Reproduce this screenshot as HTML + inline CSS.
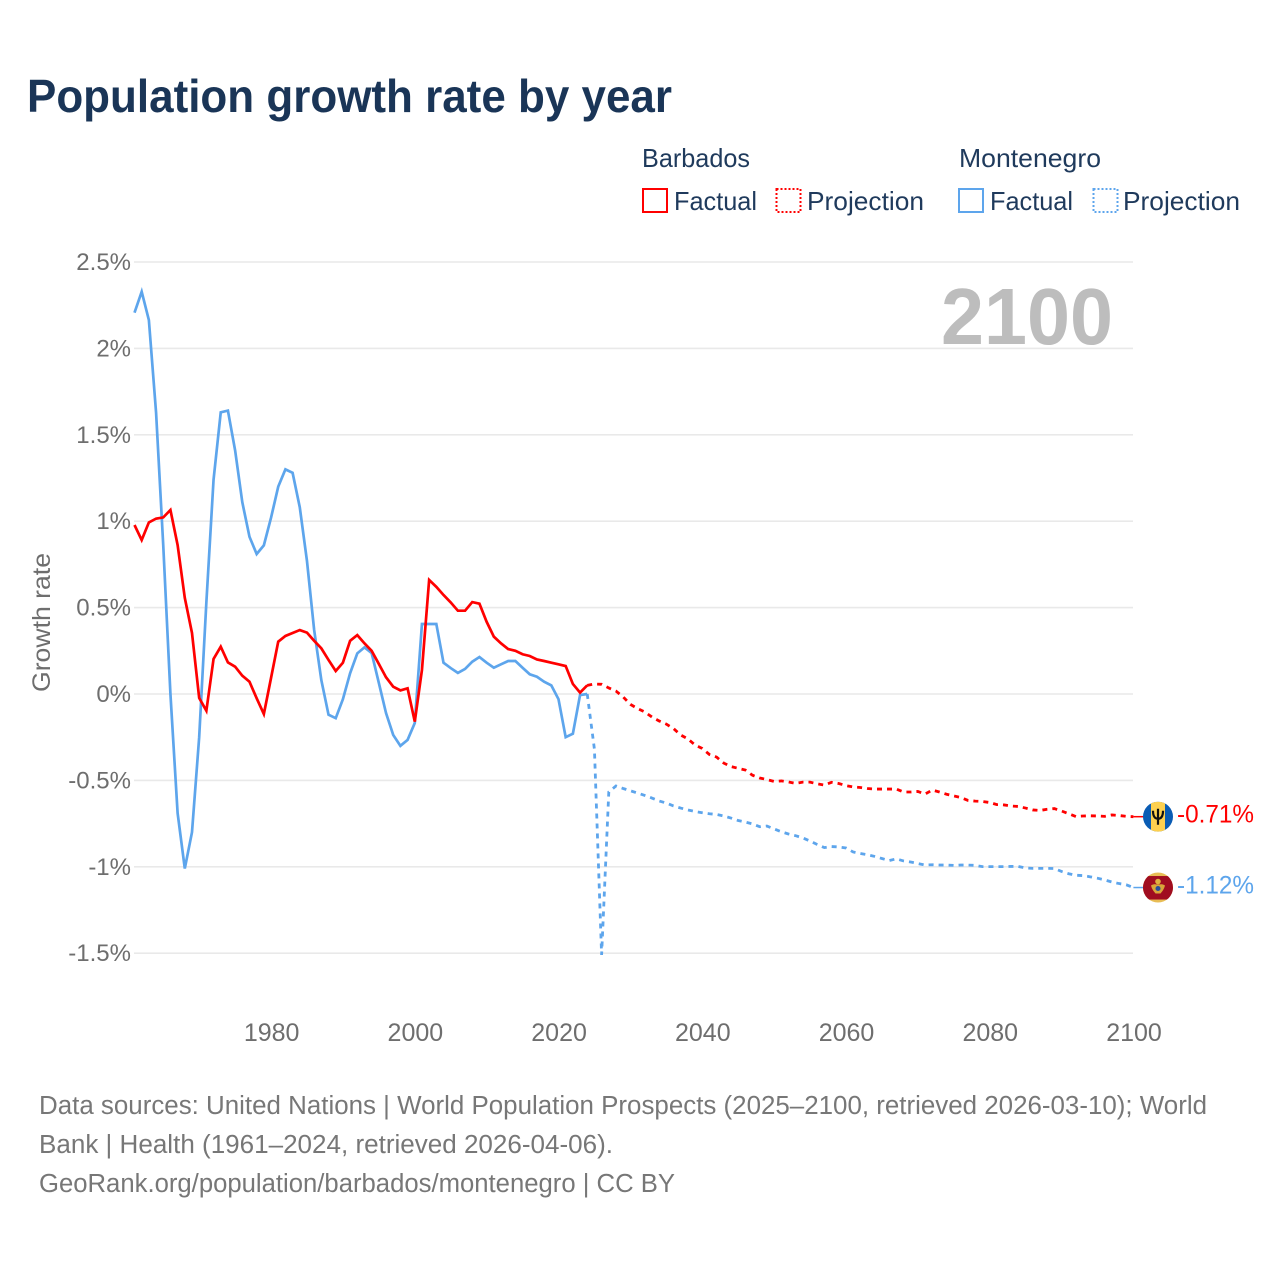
<!DOCTYPE html>
<html lang="en">
<head>
<meta charset="utf-8">
<title>Population growth rate by year</title>
<style>
html,body{margin:0;padding:0;background:#fff}
svg{display:block}
text{font-family:"Liberation Sans",sans-serif}
</style>
</head>
<body>
<svg id="chart" xmlns="http://www.w3.org/2000/svg" width="1280" height="1280" viewBox="0 0 1280 1280">
  <defs>
    <clipPath id="flag-clip"><circle cx="0" cy="0" r="15"></circle></clipPath>
  </defs>
  <rect x="0" y="0" width="1280" height="1280" fill="#ffffff"></rect>
  <text x="27" y="112" font-size="46" font-weight="700" fill="#1a3557" textLength="645" lengthAdjust="spacingAndGlyphs">Population growth rate by year</text>

  <g font-size="26" fill="#1f3a5c">
    <text x="642" y="167" textLength="108" lengthAdjust="spacingAndGlyphs">Barbados</text>
    <text x="959" y="167" textLength="142" lengthAdjust="spacingAndGlyphs">Montenegro</text>
    <rect x="643" y="189" width="24" height="23" fill="none" stroke="#ff0000" stroke-width="2"></rect>
    <text x="674" y="210" textLength="83" lengthAdjust="spacingAndGlyphs">Factual</text>
    <rect x="776.5" y="189" width="24" height="23" fill="none" stroke="#ff0000" stroke-width="2" stroke-dasharray="2 2"></rect>
    <text x="807" y="210" textLength="117" lengthAdjust="spacingAndGlyphs">Projection</text>
    <rect x="959" y="189" width="24" height="23" fill="none" stroke="#5da5ec" stroke-width="2"></rect>
    <text x="990" y="210" textLength="83" lengthAdjust="spacingAndGlyphs">Factual</text>
    <rect x="1093.5" y="189" width="24" height="23" fill="none" stroke="#5da5ec" stroke-width="2" stroke-dasharray="2 2"></rect>
    <text x="1123" y="210" textLength="117" lengthAdjust="spacingAndGlyphs">Projection</text>
  </g>

  <g id="grid"></g>
  <text x="941" y="344" font-size="80" font-weight="700" fill="#bdbdbd" textLength="172" lengthAdjust="spacingAndGlyphs">2100</text>
  <g id="y-ticks"></g>
  <g id="x-ticks"></g>
  <text transform="translate(50,692) rotate(-90)" x="0" y="0" font-size="25" fill="#6e6e6e" textLength="139" lengthAdjust="spacingAndGlyphs">Growth rate</text>
  <g id="series"></g>

  <g id="flag-barbados">
    <g clip-path="url(#flag-clip)">
      <rect x="-15" y="-15" width="30" height="30" fill="#0a5cb4"></rect>
      <rect x="-7" y="-15" width="14" height="30" fill="#fdd04f"></rect>
      <path d="M0 -8V8M-5 -6C-5 -1 -3.5 2 0 2C3.5 2 5 -1 5 -6" fill="none" stroke="#111" stroke-width="2.2"></path>
    </g>
  </g>
  <g id="flag-montenegro">
    <g clip-path="url(#flag-clip)">
      <rect x="-15" y="-15" width="30" height="30" fill="#e8bd55"></rect>
      <rect x="-15" y="-11.5" width="30" height="23.5" fill="#a00d20"></rect>
      <path d="M-7 -2C-4 -4 -2 -3 0 -3C2 -3 4 -4 7 -2C6 2 4 4 2.5 6H-2.5C-4 4 -6 2 -7 -2Z" fill="#d9a63a"></path>
      <circle cx="0" cy="-6" r="2.8" fill="#e0b040"></circle>
      <circle cx="0" cy="1" r="2.5" fill="#2a4f9a"></circle>
    </g>
  </g>
  <g id="end-labels"></g>

  <g font-size="25.5" fill="#777777">
    <text x="39" y="1114" textLength="1168" lengthAdjust="spacingAndGlyphs">Data sources: United Nations | World Population Prospects (2025–2100, retrieved 2026-03-10); World</text>
    <text x="39" y="1153" textLength="574" lengthAdjust="spacingAndGlyphs">Bank | Health (1961–2024, retrieved 2026-04-06).</text>
    <text x="39" y="1192" textLength="636" lengthAdjust="spacingAndGlyphs">GeoRank.org/population/barbados/montenegro | CC BY</text>
  </g>
</svg>
<script>
const factualStartYear = 1961;
const projectionStartYear = 2024;
const yTickValues = [2.5, 2, 1.5, 1, 0.5, 0, -0.5, -1, -1.5];
const yTickLabels = ["2.5%", "2%", "1.5%", "1%", "0.5%", "0%", "-0.5%", "-1%", "-1.5%"];
const xTickYears = [1980, 2000, 2020, 2040, 2060, 2080, 2100];

const barbadosFactual = [
  0.978, 0.891, 0.993, 1.015, 1.022, 1.065, 0.862, 0.556, 0.353, -0.023,
  -0.097, 0.203, 0.274, 0.183, 0.158, 0.106, 0.071, -0.025, -0.116, 0.093,
  0.303, 0.336, 0.353, 0.37, 0.355, 0.308, 0.264, 0.197, 0.133, 0.181,
  0.308, 0.341, 0.293, 0.25, 0.174, 0.097, 0.042, 0.021, 0.033, -0.16,
  0.139, 0.66, 0.62, 0.573, 0.53, 0.482, 0.482, 0.532, 0.523, 0.418,
  0.332, 0.293, 0.26, 0.25, 0.23, 0.22, 0.2, 0.191, 0.181, 0.172,
  0.162, 0.058, 0.008, 0.05
];
const montenegroFactual = [
  2.207, 2.328, 2.164, 1.63, 0.86, 0.0, -0.69, -1.01, -0.8, -0.25,
  0.53, 1.24, 1.63, 1.64, 1.41, 1.11, 0.91, 0.81, 0.86, 1.02,
  1.2, 1.3, 1.28, 1.08, 0.77, 0.37, 0.08, -0.12, -0.14, -0.03,
  0.12, 0.235, 0.27, 0.237, 0.064, -0.11, -0.237, -0.3, -0.266, -0.168,
  0.405, 0.405, 0.405, 0.181, 0.15, 0.122, 0.145, 0.187, 0.214, 0.181,
  0.152, 0.172, 0.191, 0.191, 0.152, 0.114, 0.1, 0.071, 0.05, -0.03,
  -0.25, -0.23, -0.006, 0.0
];
const barbadosProjection = [
  0.05, 0.058, 0.056, 0.035, 0.017, -0.017, -0.06, -0.084, -0.104, -0.133,
  -0.156, -0.174, -0.2, -0.237, -0.26, -0.295, -0.315, -0.35, -0.365, -0.4,
  -0.42, -0.43, -0.44, -0.47, -0.486, -0.495, -0.506, -0.503, -0.509, -0.517,
  -0.51, -0.51, -0.52, -0.527, -0.511, -0.518, -0.53, -0.538, -0.541, -0.547,
  -0.55, -0.55, -0.55, -0.55, -0.567, -0.567, -0.564, -0.579, -0.556, -0.567,
  -0.58, -0.59, -0.599, -0.616, -0.62, -0.622, -0.628, -0.64, -0.642, -0.648,
  -0.651, -0.66, -0.671, -0.674, -0.667, -0.663, -0.677, -0.693, -0.709, -0.706,
  -0.705, -0.706, -0.708, -0.7, -0.703, -0.708, -0.71
];
const montenegroProjection = [
  0.0, -0.32, -1.51, -0.567, -0.532, -0.547, -0.56, -0.573, -0.587, -0.602,
  -0.619, -0.631, -0.648, -0.66, -0.671, -0.68, -0.687, -0.693, -0.697, -0.706,
  -0.718, -0.732, -0.741, -0.752, -0.768, -0.764, -0.781, -0.797, -0.81, -0.82,
  -0.833, -0.851, -0.871, -0.889, -0.883, -0.885, -0.891, -0.914, -0.923, -0.93,
  -0.94, -0.952, -0.964, -0.954, -0.966, -0.972, -0.981, -0.99, -0.988, -0.99,
  -0.99, -0.992, -0.99, -0.99, -0.992, -0.999, -0.999, -0.999, -0.999, -0.998,
  -0.998, -1.007, -1.009, -1.009, -1.009, -1.01, -1.027, -1.04, -1.049, -1.051,
  -1.058, -1.066, -1.076, -1.088, -1.097, -1.104, -1.12
];

const svgNS = "http://www.w3.org/2000/svg";
const RED = "#ff0000";
const BLUE = "#5da5ec";

function xScale(year) { return 134.5 + (year - 1961) * (1133.4 - 134.5) / (2100 - 1961); }
function yScale(value) { return 694 - value * 172.8; }
function linePath(values, startYear) {
  return values.map(function (v, i) {
    return (i === 0 ? "M" : "L") + xScale(startYear + i).toFixed(2) + " " + yScale(v).toFixed(2);
  }).join(" ");
}
function make(tag, attrs, parent) {
  const el = document.createElementNS(svgNS, tag);
  Object.keys(attrs).forEach(function (k) { el.setAttribute(k, attrs[k]); });
  parent.appendChild(el);
  return el;
}

const grid = document.getElementById("grid");
const yTicks = document.getElementById("y-ticks");
yTickValues.forEach(function (v, i) {
  const line = make("line", { x1: 134, x2: 1133, y1: yScale(v), y2: yScale(v), stroke: "#e9e9e9", "stroke-width": 1.6 }, grid);
  
  
  const label = make("text", { x: 131, y: yScale(v) + 8, "text-anchor": "end", "font-size": 24, fill: "#6e6e6e" }, yTicks);
  
  
  label.textContent = yTickLabels[i];
});

const xTicks = document.getElementById("x-ticks");
xTickYears.forEach(function (year) {
  const label = make("text", { x: xScale(year) + 0.6, y: 1041, "text-anchor": "middle", "font-size": 25, fill: "#6e6e6e" }, xTicks);
  
  
  label.textContent = String(year);
});

const seriesGroup = document.getElementById("series");
const seriesBarbadosProj = make("path", { d: linePath(barbadosProjection, projectionStartYear), fill: "none", stroke: RED, "stroke-width": 2.8, "stroke-dasharray": "5 5" }, seriesGroup);


const seriesMontenegroProj = make("path", { d: linePath(montenegroProjection, projectionStartYear), fill: "none", stroke: BLUE, "stroke-width": 2.8, "stroke-dasharray": "5 5" }, seriesGroup);


const seriesMontenegro = make("path", { d: linePath(montenegroFactual, factualStartYear), fill: "none", stroke: BLUE, "stroke-width": 2.7, "stroke-linejoin": "miter" }, seriesGroup);


const seriesBarbados = make("path", { d: linePath(barbadosFactual, factualStartYear), fill: "none", stroke: RED, "stroke-width": 2.7, "stroke-linejoin": "miter" }, seriesGroup);



const endBarbados = barbadosProjection[barbadosProjection.length - 1];
const endMontenegro = montenegroProjection[montenegroProjection.length - 1];
const leaderBarbados = make("line", { x1: xScale(2100), x2: 1145, y1: yScale(endBarbados), y2: yScale(endBarbados), stroke: RED, "stroke-width": 1.5 }, seriesGroup);


const leaderMontenegro = make("line", { x1: xScale(2100), x2: 1145, y1: yScale(endMontenegro), y2: yScale(endMontenegro), stroke: BLUE, "stroke-width": 1.5 }, seriesGroup);



document.getElementById("flag-barbados").setAttribute("transform", "translate(1158," + yScale(endBarbados) + ")");
document.getElementById("flag-montenegro").setAttribute("transform", "translate(1158," + yScale(endMontenegro) + ")");

const endLabels = document.getElementById("end-labels");
const endLabelBarbados = make("text", { x: 1177, y: yScale(endBarbados) + 6, "font-size": 25, fill: RED, textLength: 77, lengthAdjust: "spacingAndGlyphs" }, endLabels);


endLabelBarbados.textContent = endBarbados.toFixed(2) + "%";
const endLabelMontenegro = make("text", { x: 1177, y: yScale(endMontenegro) + 6, "font-size": 25, fill: BLUE, textLength: 77, lengthAdjust: "spacingAndGlyphs" }, endLabels);


endLabelMontenegro.textContent = endMontenegro.toFixed(2) + "%";
</script>
</body>
</html>
